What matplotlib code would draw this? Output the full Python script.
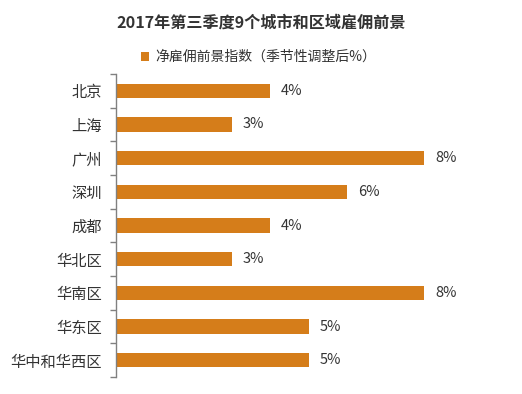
import numpy as np
import matplotlib.pyplot as plt

plt.rcParams['font.family'] = ['Noto Sans CJK SC', 'DejaVu Sans']

regions = ['北京', '上海', '广州', '深圳', '成都', '华北区', '华南区', '华东区', '华中和华西区']
values = [4, 3, 8, 6, 4, 3, 8, 5, 5]
title = '2017年第三季度9个城市和区域雇佣前景'
series_name = '净雇佣前景指数（季节性调整后%）'

bar_color = '#D57D1A'
text_color = '#333333'

fig = plt.figure(figsize=(5.22, 3.94), dpi=100)
ax = fig.add_axes([0.2222, 0.0431, 0.738, 0.7691])

y = np.arange(len(regions))
bars = ax.barh(y, values, height=0.42, color=bar_color, label=series_name)
ax.set_xlim(0, 10)
ax.set_ylim(len(regions) - 0.5, -0.5)

# value labels just past the bar ends
for b, v in zip(bars, values):
    ax.annotate(f'{v}%', (b.get_width(), b.get_y() + b.get_height() / 2),
                xytext=(11, 0), textcoords='offset pixels',
                va='center', ha='left', fontsize=10.5, color=text_color)

ax.set_yticks(y)
ax.set_yticklabels(regions, fontsize=11, color=text_color)
ax.tick_params(axis='y', which='major', length=0, pad=10)
ax.set_yticks(np.arange(-0.5, len(regions)), minor=True)
ax.tick_params(axis='y', which='minor', length=4, width=1, color='#808080')
ax.set_xticks([])

for s in ['top', 'right', 'bottom']:
    ax.spines[s].set_visible(False)
ax.spines['left'].set_color('#808080')
ax.spines['left'].set_linewidth(1)

fig.text(0.5, 0.944, title, ha='center', va='center', fontsize=11.6,
         fontweight='bold', color=text_color)
fig.legend(loc='center', bbox_to_anchor=(0.495, 0.855), frameon=False,
           handlelength=0.6, handleheight=0.6, handletextpad=0.4,
           prop={'size': 10}, labelcolor=text_color)

fig.savefig('out.png', dpi=100)
